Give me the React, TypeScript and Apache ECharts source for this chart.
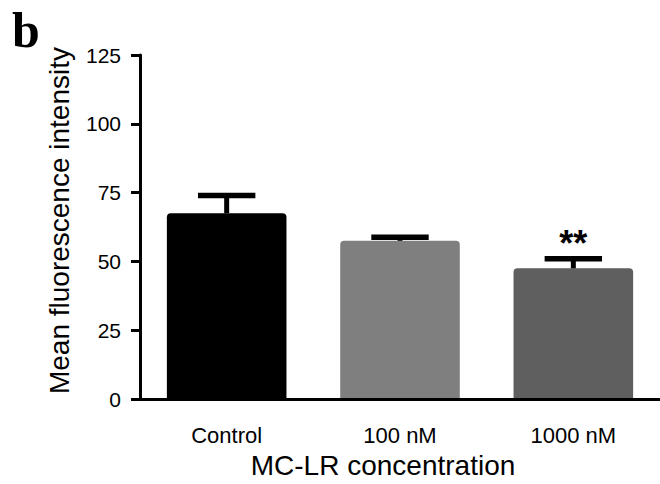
import React, { useEffect, useRef } from "react";
import * as echarts from "echarts";

const categories = ["Control", "100 nM", "1000 nM"];
const means = [67.5, 57.5, 47.5];
const errors = [6.5, 1.3, 3.5];
const significance = ["", "", "**"];
const barColors = ["#000000", "#7f7f7f", "#5f5f5f"];
const yMin = 0;
const yMax = 125;
const yInterval = 25;

const FONT = "Liberation Sans, Arial, sans-serif";

export default function App() {
  const ref = useRef<HTMLDivElement>(null);
  useEffect(() => {
    if (!ref.current) return;
    const chart = echarts.init(ref.current, null, { renderer: "svg" });
    const errData = categories.map((c, i) => [i, means[i], errors[i]]);
    chart.setOption({
      animation: false,
      backgroundColor: "#ffffff",
      textStyle: { fontFamily: FONT },
      grid: { left: 140, right: -2, top: 55, bottom: 82.5, containLabel: false },
      graphic: [
        {
          type: "text",
          left: 12,
          top: 5,
          style: {
            text: "b",
            fontFamily: "Liberation Serif, serif",
            fontWeight: "bold",
            fontSize: 50,
            fill: "#000",
          },
        },
      ],
      xAxis: {
        type: "category",
        data: categories,
        z: 5,
        axisLine: { lineStyle: { color: "#000", width: 3 } },
        axisTick: { alignWithLabel: true, length: 9, lineStyle: { color: "#000", width: 3 } },
        axisLabel: { color: "#000", fontSize: 22, margin: 25, fontFamily: FONT },
        name: "MC-LR concentration",
        nameLocation: "middle",
        nameGap: 48,
        nameTextStyle: { color: "#000", fontSize: 28, fontFamily: FONT, padding: [0, 34, 0, 0] },
      },
      yAxis: {
        type: "value",
        min: yMin,
        max: yMax,
        interval: yInterval,
        z: 5,
        splitLine: { show: false },
        axisLine: { show: true, lineStyle: { color: "#000", width: 3 } },
        axisTick: { show: true, length: 9, lineStyle: { color: "#000", width: 3 } },
        axisLabel: { color: "#000", fontSize: 21, margin: 19, fontFamily: FONT },
        name: "Mean fluorescence intensity",
        nameLocation: "middle",
        nameGap: 67,
        nameTextStyle: { color: "#000", fontSize: 28, fontFamily: FONT, padding: [0, 0, 0, 13] },
      },
      series: [
        {
          type: "bar",
          barWidth: "69%",
          z: 2,
          data: means.map((v, i) => ({
            value: v,
            itemStyle: { color: barColors[i], borderRadius: [4, 4, 0, 0] },
          })),
        },
        {
          type: "custom",
          z: 3,
          data: errData,
          renderItem: (params: any, api: any) => {
            const idx = api.value(0);
            const mean = api.value(1);
            const err = api.value(2);
            const base = api.coord([idx, mean]);
            const top = api.coord([idx, mean + err]);
            const band = api.size([1, 0])[0];
            const capHalf = band * 0.69 * 0.24;
            const children: any[] = [
              {
                type: "line",
                shape: { x1: top[0], y1: base[1], x2: top[0], y2: top[1] },
                style: { stroke: "#000", lineWidth: 5 },
              },
              {
                type: "line",
                shape: { x1: top[0] - capHalf, y1: top[1], x2: top[0] + capHalf, y2: top[1] },
                style: { stroke: "#000", lineWidth: 5.5 },
              },
            ];
            const sig = significance[params.dataIndex];
            if (sig) {
              children.push({
                type: "text",
                style: {
                  text: sig,
                  x: top[0],
                  y: top[1] - 15,
                  align: "center",
                  verticalAlign: "middle",
                  fontSize: 36,
                  fontWeight: "bold",
                  fontFamily: FONT,
                  fill: "#000",
                },
              });
            }
            return { type: "group", children };
          },
        },
      ],
    });
    return () => chart.dispose();
  }, []);
  return (
    <div
      ref={ref}
      style={{ position: "fixed", left: 0, top: 0, width: 660, height: 484 }}
    />
  );
}
